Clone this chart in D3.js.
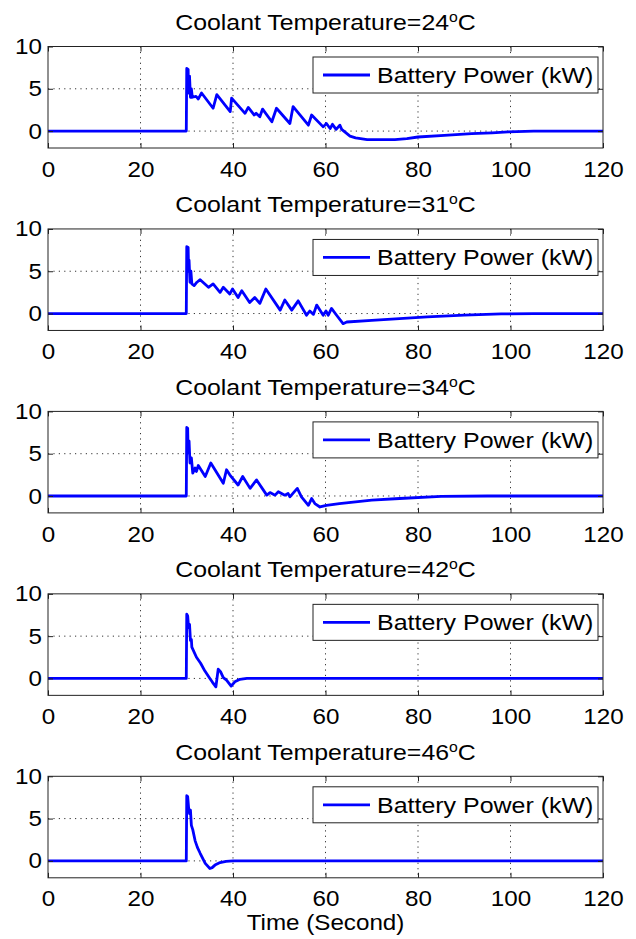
<!DOCTYPE html>
<html><head><meta charset="utf-8">
<script src="https://cdn.jsdelivr.net/npm/d3@7"></script>
<style>body{margin:0;background:#fff;} svg{display:block;}</style>
</head><body>
<script>
const coolantTemps = [24, 31, 34, 42, 46];
const xTicks = [0, 20, 40, 60, 80, 100, 120];
const yTicks = [0, 5, 10];
const xGrid = [20, 40, 60, 80, 100];
const yGrid = [0, 5];
const legendLabel = "Battery Power (kW)";
const xLabel = "Time (Second)";

const power24 = [[0,0],[29.9,0],[30,7.4],[30.3,7.3],[30.4,4.5],[30.6,6.5],[30.8,4.0],[31,5.0],[31.2,4.0],[32,4.1],[32.5,3.8],[33.2,4.5],[35.7,2.7],[36.5,4.3],[39.4,2.3],[39.7,3.9],[42.6,2.1],[43.3,2.8],[44.6,1.9],[45.0,2.1],[45.8,1.7],[46.4,2.6],[48.4,1.1],[49.4,2.7],[52.3,0.9],[53.0,2.9],[56.3,0.7],[57.0,1.9],[59.5,0.5],[60.2,0.9],[61.0,0.3],[61.5,0.8],[62.3,0.2],[63.1,0.7],[63.5,0.2],[65.3,-0.6],[66.5,-0.8],[69,-1.0],[75,-1.0],[77.6,-0.9],[80,-0.7],[85.7,-0.5],[91.6,-0.3],[96,-0.2],[99.5,-0.1],[105,0],[120,0]];
const power31 = [[0,0],[29.9,0],[30,7.9],[30.3,7.8],[30.4,5.0],[30.5,6.3],[30.7,3.7],[30.9,5.0],[31.1,3.5],[31.6,3.3],[32.2,3.7],[32.9,4.0],[34.7,3.1],[35.7,3.5],[37.2,2.5],[37.9,3.1],[39.3,2.3],[39.9,2.9],[41.1,1.9],[41.9,2.7],[43.6,1.3],[44.7,1.9],[45.8,1.2],[47.1,2.9],[50.2,0.4],[51.2,1.6],[52.7,0.4],[54.1,1.5],[55.9,-0.2],[56.6,0.3],[57.4,-0.1],[58.1,1.0],[59.5,-0.2],[60.1,0.3],[60.6,-0.2],[61.3,0.6],[62.4,-0.2],[63.8,-1.2],[64.6,-1.0],[70,-0.8],[76,-0.6],[82,-0.4],[90,-0.2],[98,-0.05],[105,0],[120,0]];
const power34 = [[0,0],[29.9,0],[30,8.1],[30.2,8.0],[30.3,5.1],[30.5,6.5],[30.7,3.9],[31.0,4.5],[31.3,2.7],[31.8,3.3],[32.1,2.9],[32.5,3.6],[34.0,2.3],[35.2,3.9],[37.9,1.5],[38.6,3.1],[39.3,2.5],[41.1,1.3],[42.1,2.3],[43.7,0.9],[45.1,1.9],[47.3,0.1],[48.0,0.4],[49.1,0.1],[49.8,0.5],[51.2,0.1],[51.9,0.3],[52.3,-0.1],[53.9,0.9],[54.8,-0.1],[56.3,-1.1],[57.0,-0.3],[57.7,-0.9],[58.8,-1.3],[60.2,-1.1],[63,-0.9],[70,-0.5],[76,-0.3],[85,-0.05],[95,0],[120,0]];
const power42 = [[0,0],[29.9,0],[30,7.6],[30.2,7.4],[30.4,6.0],[30.6,6.4],[30.8,4.5],[31.0,4.6],[31.1,3.7],[32.1,2.5],[33.0,1.8],[33.9,0.9],[35.0,0.0],[35.5,-0.4],[36.3,-1.0],[36.8,1.1],[37.3,0.8],[37.9,0.1],[38.6,-0.2],[39.6,-0.9],[40.4,-0.4],[41.5,-0.1],[43,0],[120,0]];
const power46 = [[0,0],[29.9,0],[30,7.7],[30.2,7.6],[30.4,6.3],[30.6,5.6],[30.8,6.0],[31.0,4.2],[31.3,3.7],[31.8,2.4],[32.3,1.6],[32.9,0.9],[34.0,-0.3],[35.0,-0.9],[35.5,-0.8],[36.1,-0.5],[37.2,-0.2],[38.5,-0.05],[40,0],[120,0]];
const seriesList = [power24, power31, power34, power42, power46];

const W = 636, H = 939;
const svg = d3.select("body").append("svg").attr("width", W).attr("height", H);
const left = 48, right = 603, top0 = 46.5, step = 182.45, panelH = 101.5;
const FONT = "'Liberation Sans', Arial, Helvetica, sans-serif";
const FS = 22, SX = 1.1, SX_LEG = 1.135, SX_TITLE = 1.13;
const lineColor = "#0000ff";

const x = d3.scaleLinear().domain([0, 120]).range([left, right]);

seriesList.forEach((data, i) => {
  const top = top0 + i * step;
  const bottom = top + panelH;
  const y = d3.scaleLinear().domain([-2, 10]).range([bottom, top]);
  const g = svg.append("g");

  g.append("rect").attr("x", left).attr("y", top).attr("width", right - left).attr("height", panelH).attr("fill", "#fff");

  g.selectAll(".gx").data(xGrid).join("line")
    .attr("x1", d => x(d)).attr("x2", d => x(d)).attr("y1", top).attr("y2", bottom)
    .attr("stroke", "#333").attr("stroke-width", 1).attr("stroke-dasharray", "1.2,4.2");
  g.selectAll(".gy").data(yGrid).join("line")
    .attr("y1", d => y(d)).attr("y2", d => y(d)).attr("x1", left).attr("x2", right)
    .attr("stroke", "#333").attr("stroke-width", 1).attr("stroke-dasharray", "1.2,4.2");

  const cid = "clip" + i;
  svg.append("clipPath").attr("id", cid).append("rect")
    .attr("x", left).attr("y", top).attr("width", right - left).attr("height", panelH);

  g.append("path").datum(data)
    .attr("clip-path", `url(#${cid})`)
    .attr("fill", "none").attr("stroke", lineColor).attr("stroke-width", 2.8)
    .attr("stroke-linejoin", "round")
    .attr("d", d3.line().x(d => x(d[0])).y(d => y(d[1])));

  const ax = g.append("g").attr("transform", `translate(0,${bottom})`)
    .call(d3.axisBottom(x).tickValues(xTicks).tickSizeInner(-5).tickSizeOuter(0).tickPadding(13));
  const axT = g.append("g").attr("transform", `translate(0,${top})`)
    .call(d3.axisTop(x).tickValues(xTicks).tickSizeInner(-5).tickSizeOuter(0).tickFormat(""));
  const ay = g.append("g").attr("transform", `translate(${left},0)`)
    .call(d3.axisLeft(y).tickValues(yTicks).tickSizeInner(-5).tickSizeOuter(0).tickPadding(6));
  const ayR = g.append("g").attr("transform", `translate(${right},0)`)
    .call(d3.axisRight(y).tickValues(yTicks).tickSizeInner(-5).tickSizeOuter(0).tickFormat(""));
  [ax, axT, ay, ayR].forEach(a => {
    a.select(".domain").remove();
    a.selectAll("line").attr("stroke", "#222");
  });
  ax.selectAll("text").attr("font-family", FONT).attr("font-size", FS).attr("fill", "#000")
    .attr("transform", `scale(${SX},1)`);
  ay.selectAll("text").attr("font-family", FONT).attr("font-size", FS).attr("fill", "#000")
    .attr("x", -6 / SX).attr("transform", `scale(${SX},1)`);

  g.append("rect").attr("x", left).attr("y", top).attr("width", right - left).attr("height", panelH)
    .attr("fill", "none").attr("stroke", "#222").attr("stroke-width", 1);

  const tg = g.append("g").attr("transform", `translate(${(left + right) / 2},${top - 16.5}) scale(${SX_TITLE},1)`);
  const tt = tg.append("text").attr("text-anchor", "middle").attr("font-family", FONT).attr("font-size", FS).attr("fill", "#000");
  tt.append("tspan").text(`Coolant Temperature=${coolantTemps[i]}`);
  tt.append("tspan").attr("dy", -8).attr("font-size", 14).text("o");
  tt.append("tspan").attr("dy", 8).text("C");

  const lx = 313, lw = 285, ly = top + 10.5, lh = 36;
  g.append("rect").attr("x", lx).attr("y", ly).attr("width", lw).attr("height", lh)
    .attr("fill", "#fff").attr("stroke", "#222").attr("stroke-width", 1);
  g.append("line").attr("x1", lx + 10).attr("x2", lx + 57).attr("y1", ly + lh / 2).attr("y2", ly + lh / 2)
    .attr("stroke", lineColor).attr("stroke-width", 2.8);
  g.append("g").attr("transform", `translate(${lx + 64},${ly + lh / 2 + 8}) scale(${SX_LEG},1)`)
    .append("text").attr("font-family", FONT).attr("font-size", FS).attr("fill", "#000").text(legendLabel);
});

const lastBottom = top0 + 4 * step + panelH;
svg.append("g").attr("transform", `translate(${(left + right) / 2},${lastBottom + 52}) scale(${SX},1)`)
  .append("text").attr("text-anchor", "middle").attr("font-family", FONT).attr("font-size", FS).attr("fill", "#000").text(xLabel);
</script>
</body></html>
